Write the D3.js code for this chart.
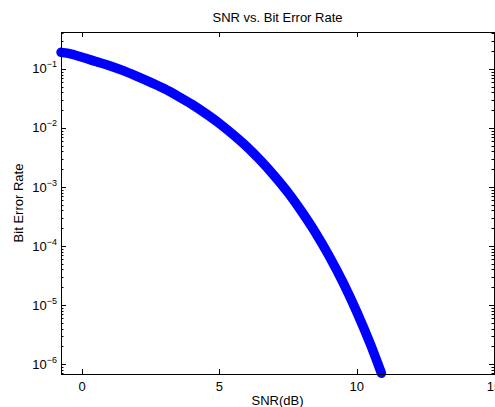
<!DOCTYPE html>
<html>
<head>
<meta charset="utf-8">
<script src="https://cdn.jsdelivr.net/npm/d3@7/dist/d3.min.js"></script>
<style>
  html, body { margin: 0; padding: 0; background: #fff; }
  svg { display: block; }
  text { font-family: "Liberation Sans", Arial, Helvetica, sans-serif; fill: #000; }
</style>
</head>
<body>
<svg id="chart" width="495" height="407"></svg>
<script>
// ---- data ----
const snrDb = [-0.77, -0.5, 0, 0.5, 1, 1.5, 2, 2.5, 3, 3.5, 4, 4.5, 5, 5.5, 6, 6.5, 7, 7.5, 8, 8.5, 9, 9.5, 10, 10.5, 10.9];
const ber   = [0.19, 0.182, 0.157, 0.133, 0.113, 0.093, 0.0745, 0.059, 0.046, 0.0343, 0.025, 0.0175, 0.0119, 0.0077, 0.0048, 0.0028, 0.00154, 0.0008, 0.00038, 0.000168, 6.7e-5, 2.42e-5, 7.7e-6, 2.16e-6, 7.0e-7];
const xTicks = [0, 5, 10, 15];
const yTickExps = [-6, -5, -4, -3, -2, -1];
const xDomain = [-0.77, 15];
const yDomain = [6.8e-7, 0.42];
const titleText = "SNR vs. Bit Error Rate";
const xLabelText = "SNR(dB)";
const yLabelText = "Bit Error Rate";

// ---- layout ----
const L = 61, R = 494, T = 32, B = 374;
const svg = d3.select("#chart");
const x = d3.scaleLinear().domain(xDomain).range([L, R]);
const y = d3.scaleLog().domain(yDomain).range([B, T]);

// curve
const pts = snrDb.map((d, i) => [d, ber[i]]);
svg.append("path")
  .datum(pts)
  .attr("fill", "none")
  .attr("stroke", "#0000ff")
  .attr("stroke-width", 9.5)
  .attr("stroke-linecap", "round")
  .attr("stroke-linejoin", "round")
  .attr("d", d3.line().x(d => x(d[0])).y(d => y(d[1])).curve(d3.curveMonotoneX));

// ticks
const g = svg.append("g").attr("stroke", "#000").attr("stroke-width", 1);
const majorLen = 5, minorLen = 2.5;
xTicks.forEach(t => {
  const px = Math.round(x(t)) + 0.5;
  g.append("line").attr("x1", px).attr("x2", px).attr("y1", B).attr("y2", B - majorLen);
  g.append("line").attr("x1", px).attr("x2", px).attr("y1", T).attr("y2", T + majorLen);
});
const yAll = y.ticks();
yAll.forEach(t => {
  const e = Math.log10(t);
  const major = Math.abs(e - Math.round(e)) < 1e-9;
  const len = major ? majorLen : minorLen;
  const py = Math.round(y(t)) + 0.5;
  g.append("line").attr("x1", L).attr("x2", L + len).attr("y1", py).attr("y2", py);
  g.append("line").attr("x1", R).attr("x2", R - len).attr("y1", py).attr("y2", py);
});

// axes box
svg.append("rect")
  .attr("x", L + 0.5).attr("y", T + 0.5)
  .attr("width", R - L).attr("height", B - T)
  .attr("fill", "none").attr("stroke", "#000").attr("stroke-width", 1);

// x tick labels
svg.append("g").selectAll("text").data(xTicks).join("text")
  .attr("x", d => x(d)).attr("y", 391)
  .attr("text-anchor", "middle")
  .attr("font-size", 13)
  .text(d => d);

// y tick labels
const yl = svg.append("g").selectAll("text").data(yTickExps).join("text")
  .attr("x", 57).attr("y", d => y(Math.pow(10, d)) + 4.6)
  .attr("text-anchor", "end")
  .attr("font-size", 13);
yl.append("tspan").text("10");
yl.append("tspan").attr("font-size", 9).attr("dy", -6).text(d => "\u2212" + Math.abs(d));

// title and labels
svg.append("text").attr("x", (L + R) / 2).attr("y", 21.5)
  .attr("text-anchor", "middle").attr("font-size", 13).text(titleText);
svg.append("text").attr("x", (L + R) / 2).attr("y", 405)
  .attr("text-anchor", "middle").attr("font-size", 13).text(xLabelText);
svg.append("text")
  .attr("transform", `translate(23,${(T + B) / 2}) rotate(-90)`)
  .attr("text-anchor", "middle").attr("font-size", 13).text(yLabelText);
</script>
</body>
</html>
